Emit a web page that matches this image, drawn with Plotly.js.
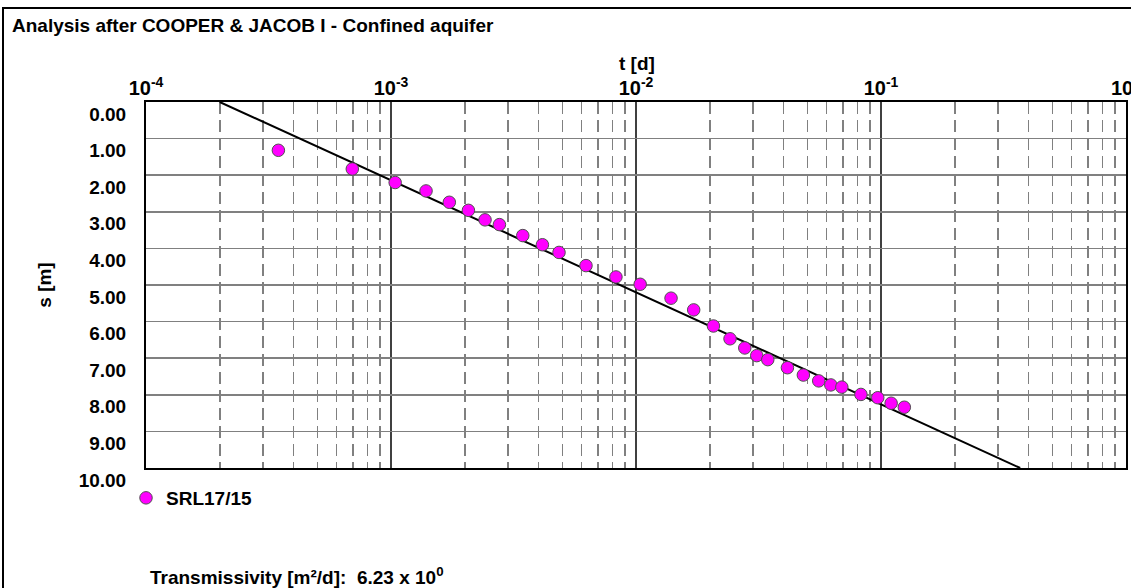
<!DOCTYPE html>
<html>
<head>
<meta charset="utf-8">
<script src="https://cdn.plot.ly/plotly-3.0.1.min.js"></script>
<style>
  html, body { margin: 0; padding: 0; background: #ffffff; }
  #chart { width: 1131px; height: 588px; }
</style>
</head>
<body>
<div id="chart"></div>
<script>
// ---- data ----
const timeDays = [3.47e-4, 6.95e-4, 1.04e-3, 1.39e-3, 1.73e-3, 2.07e-3, 2.42e-3, 2.77e-3, 3.45e-3, 4.15e-3,
                  4.85e-3, 6.25e-3, 8.28e-3, 1.04e-2, 1.39e-2, 1.72e-2, 2.07e-2, 2.42e-2, 2.78e-2, 3.11e-2,
                  3.45e-2, 4.15e-2, 4.82e-2, 5.57e-2, 6.24e-2, 6.92e-2, 8.28e-2, 9.70e-2, 0.110, 0.1245];
const drawdown = [1.32, 1.83, 2.20, 2.43, 2.74, 2.96, 3.22, 3.35, 3.65, 3.90,
                  4.11, 4.47, 4.78, 4.98, 5.36, 5.68, 6.12, 6.47, 6.72, 6.93,
                  7.04, 7.26, 7.46, 7.62, 7.73, 7.79, 7.99, 8.08, 8.23, 8.34];
const fitTime = [2.0e-4, 0.37];
const fitDrawdown = [0, 10];
const seriesName = 'SRL17/15';

const xTickVals = [1e-4, 1e-3, 1e-2, 1e-1, 1];
const xTickText = ['10<sup>-4</sup>', '10<sup>-3</sup>', '10<sup>-2</sup>', '10<sup>-1</sup>', '10<sup>0</sup>'];
const yTickVals = [0, 1, 2, 3, 4, 5, 6, 7, 8, 9, 10];
const yTickText = ['0.00', '1.00', '2.00', '3.00', '4.00', '5.00', '6.00', '7.00', '8.00', '9.00', '10.00'];

const chartTitle = 'Analysis after COOPER &amp; JACOB I - Confined aquifer';
const xTitle = 't [d]';
const yTitle = 's [m]';
const transmissivityText = 'Transmissivity [m²/d]:  6.23 x 10<sup>0</sup>';

// ---- chart ----
const FONT = 'Liberation Sans, Arial, Helvetica, sans-serif';
const W = 1131, H = 588;
const M = { l: 146, r: 5, t: 102, b: 120 };
const PW = W - M.l - M.r, PH = H - M.t - M.b;
const px = x => (x - M.l) / PW;          // pixel -> paper x
const py = y => 1 - (y - M.t) / PH;      // pixel -> paper y

const traces = [
  {
    x: fitTime, y: fitDrawdown, type: 'scatter', mode: 'lines',
    line: { color: '#000000', width: 2 }, showlegend: false, hoverinfo: 'skip'
  },
  {
    x: timeDays, y: drawdown, type: 'scatter', mode: 'markers', name: seriesName,
    marker: { color: '#ff00ff', size: 12.5, line: { color: '#505050', width: 1 } }
  }
];

const layout = {
  width: W, height: H,
  margin: M,
  paper_bgcolor: '#ffffff', plot_bgcolor: '#ffffff',
  font: { family: FONT, size: 18, color: '#000000', weight: 'bold' },
  title: {
    text: chartTitle, font: { family: FONT, size: 19, weight: 'bold', color: '#000' },
    xref: 'container', yref: 'container', x: 12 / W, xanchor: 'left', y: 1 - 25 / H, yanchor: 'middle'
  },
  xaxis: {
    type: 'log', range: [-4, 0], side: 'top',
    tickmode: 'array', tickvals: xTickVals, ticktext: xTickText,
    tickfont: { family: FONT, size: 20, weight: 'bold' },
    ticks: '', ticklabelstandoff: -3, ticklabeloverflow: 'allow',
    showgrid: true, gridcolor: '#404040', gridwidth: 1.2,
    minor: { tickmode: 'linear', dtick: 'D1', showgrid: true, gridcolor: '#808080', gridwidth: 1.5, griddash: '12px,6px', ticks: '' },
    showline: true, mirror: true, linecolor: '#000000', linewidth: 2,
    fixedrange: true
  },
  yaxis: {
    range: [10, 0],
    tickmode: 'array', tickvals: yTickVals, ticktext: yTickText,
    tickfont: { family: FONT, size: 19, weight: 'bold' },
    ticks: '', ticklabelstandoff: 14, ticklabelshift: -12,
    showgrid: true, gridcolor: '#808080', gridwidth: 1.5, zeroline: false,
    showline: true, mirror: true, linecolor: '#000000', linewidth: 2,
    title: { text: yTitle, font: { family: FONT, size: 19, weight: 'bold' }, standoff: 22 },
    fixedrange: true
  },
  showlegend: true,
  legend: {
    x: px(126), xanchor: 'left', y: py(498), yanchor: 'middle',
    font: { family: FONT, size: 19, weight: 'bold' },
    bgcolor: 'rgba(0,0,0,0)', borderwidth: 0, itemwidth: 30
  },
  annotations: [
    {
      text: xTitle, xref: 'paper', yref: 'paper',
      x: px(637), y: py(63), xanchor: 'center', yanchor: 'middle', showarrow: false,
      font: { family: FONT, size: 19, weight: 'bold', color: '#000' }
    },
    {
      text: transmissivityText, xref: 'paper', yref: 'paper',
      x: px(148), y: py(576), xanchor: 'left', yanchor: 'middle', showarrow: false,
      font: { family: FONT, size: 19, weight: 'bold', color: '#000' }
    }
  ],
  shapes: [
    {
      type: 'rect', xref: 'paper', yref: 'paper',
      x0: px(3), x1: px(1145), y0: py(600), y1: py(8),
      line: { color: '#000000', width: 2 }, fillcolor: 'rgba(0,0,0,0)', layer: 'above'
    }
  ]
};

Plotly.newPlot('chart', traces, layout, { displayModeBar: false, staticPlot: true });
</script>
</body>
</html>
